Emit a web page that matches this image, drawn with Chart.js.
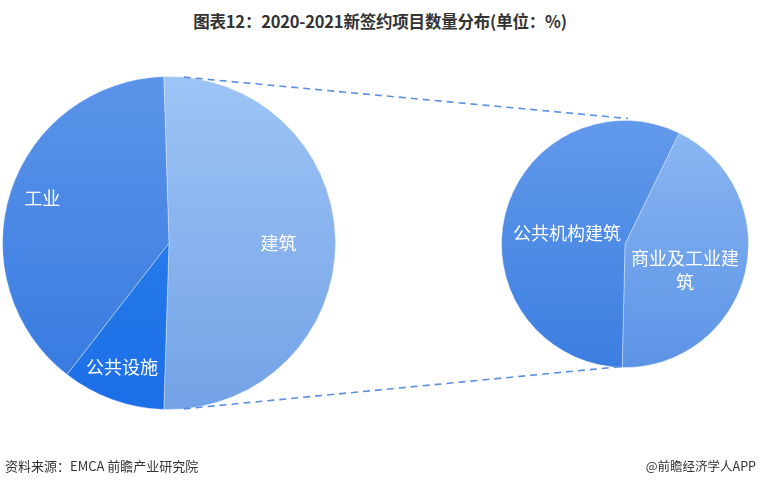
<!DOCTYPE html>
<html>
<head>
<meta charset="utf-8">
<script src="https://cdn.jsdelivr.net/npm/chart.js@4.4.0/dist/chart.umd.min.js"></script>
<style>
  html,body{margin:0;padding:0;background:#fff;width:760px;height:486px;overflow:hidden;font-family:"Noto Sans CJK SC","Noto Sans",sans-serif;}
  #title{position:absolute;left:0;top:9px;width:760px;text-align:center;font-size:16.5px;font-weight:bold;color:#333;letter-spacing:-0.2px;}
  #src{position:absolute;left:5px;top:456px;font-size:13px;color:#333;}
  #brand{position:absolute;right:4px;top:456px;font-size:12.5px;color:#333;}
  canvas{position:absolute;}
</style>
</head>
<body>
<div id="title">图表12：2020-2021新签约项目数量分布(单位：%)</div>
<canvas id="left" width="334" height="334" style="left:2px;top:76px;width:334px;height:334px"></canvas>
<canvas id="right" width="248" height="248" style="left:501px;top:120px;width:248px;height:248px"></canvas>
<canvas id="lines" width="760" height="486" style="left:0;top:0;width:760px;height:486px;pointer-events:none"></canvas>
<div id="src">资料来源：EMCA 前瞻产业研究院</div>
<div id="brand">@前瞻经济学人APP</div>
<script>
// Data
const mainCategories = ['建筑', '公共设施', '工业'];
const mainValues = [51, 10, 39];
const subCategories = ['商业及工业建筑', '公共机构建筑'];
const subValues = [22, 29];

const mainColors = [['#9ec4f6', '#72a2e6'], ['#3386ee', '#1b6ee6'], ['#5b94e9', '#3479e0']];
const subColors = [['#8cb8f3', '#5b93e6'], ['#6299eb', '#3b7ee0']];

function gradFill(colors) {
  return function (ctx) {
    const chart = ctx.chart;
    const a = chart.chartArea;
    if (!a) return colors[ctx.dataIndex][0];
    const g = chart.ctx.createLinearGradient(0, a.top, 0, a.bottom);
    g.addColorStop(0, colors[ctx.dataIndex][0]);
    g.addColorStop(1, colors[ctx.dataIndex][1]);
    return g;
  };
}

const labelPlugin = {
  id: 'sliceLabels',
  afterDatasetsDraw(chart, args, opts) {
    const ctx = chart.ctx;
    const meta = chart.getDatasetMeta(0);
    ctx.save();
    ctx.fillStyle = '#ffffff';
    ctx.font = '18px "Noto Sans CJK SC", sans-serif';
    ctx.textAlign = 'center';
    ctx.textBaseline = 'middle';
    meta.data.forEach((arc, i) => {
      const p = opts.pos[i];
      const mid = (arc.startAngle + arc.endAngle) / 2;
      const r = arc.outerRadius * p.f;
      const x = arc.x + Math.cos(mid) * r + (p.dx || 0);
      const y = arc.y + Math.sin(mid) * r + (p.dy || 0);
      const lines = opts.lines[i];
      lines.forEach((t, k) => {
        ctx.fillText(t, x, y + (k - (lines.length - 1) / 2) * 24);
      });
    });
    ctx.restore();
  }
};

const common = {
  responsive: false,
  animation: false,
  events: [],
  layout: { padding: 0 },
  plugins: { legend: { display: false }, tooltip: { enabled: false } }
};

const leftChart = new Chart(document.getElementById('left'), {
  type: 'pie',
  data: {
    labels: mainCategories,
    datasets: [{
      data: mainValues,
      backgroundColor: gradFill(mainColors),
      borderColor: 'rgba(255,255,255,0.35)',
      borderWidth: 1
    }]
  },
  options: Object.assign({}, common, {
    rotation: -1.8,
    plugins: Object.assign({}, common.plugins, {
      sliceLabels: {
        pos: [{ f: 0.67, dx: -2, dy: 0 }, { f: 0.8, dx: -2, dy: -1 }, { f: 0.8, dx: 0, dy: -4 }],
        lines: [['建筑'], ['公共设施'], ['工业']]
      }
    })
  }),
  plugins: [labelPlugin]
});

const rightChart = new Chart(document.getElementById('right'), {
  type: 'pie',
  data: {
    labels: subCategories,
    datasets: [{
      data: subValues,
      backgroundColor: gradFill(subColors),
      borderColor: 'rgba(255,255,255,0.35)',
      borderWidth: 1
    }]
  },
  options: Object.assign({}, common, {
    rotation: 26,
    plugins: Object.assign({}, common.plugins, {
      sliceLabels: {
        pos: [{ f: 0.55, dx: -6, dy: 10 }, { f: 0.5, dx: 2, dy: 4 }],
        lines: [['商业及工业建', '筑'], ['公共机构建筑']]
      }
    })
  }),
  plugins: [labelPlugin]
});

// Connector lines between the exploded slice and the secondary pie
(function drawConnectors() {
  const lc = document.getElementById('lines').getContext('2d');
  const lArc = leftChart.getDatasetMeta(0).data[0];
  const rArc = rightChart.getDatasetMeta(0).data[0];
  const lOff = document.getElementById('left');
  const rOff = document.getElementById('right');
  const lx = lOff.offsetLeft, ly = lOff.offsetTop;
  const rx = rOff.offsetLeft, ry = rOff.offsetTop;
  const p1 = { x: lx + lArc.x + Math.cos(lArc.startAngle + 0.12) * lArc.outerRadius, y: ly + lArc.y + Math.sin(lArc.startAngle + 0.12) * lArc.outerRadius };
  const p2 = { x: lx + lArc.x + Math.cos(lArc.endAngle - 0.12) * lArc.outerRadius, y: ly + lArc.y + Math.sin(lArc.endAngle - 0.12) * lArc.outerRadius };
  const q1 = { x: rx + rArc.x + 3, y: ry + rArc.y - rArc.outerRadius - 2 };
  const q2 = { x: rx + rArc.x - 3, y: ry + rArc.y + rArc.outerRadius - 1 };
  lc.save();
  lc.strokeStyle = '#5b8fe2';
  lc.lineWidth = 1.6;
  lc.setLineDash([7, 5]);
  lc.beginPath();
  lc.moveTo(p1.x, p1.y); lc.lineTo(q1.x, q1.y);
  lc.moveTo(p2.x, p2.y); lc.lineTo(q2.x, q2.y);
  lc.stroke();
  lc.restore();
})();
</script>
</body>
</html>
